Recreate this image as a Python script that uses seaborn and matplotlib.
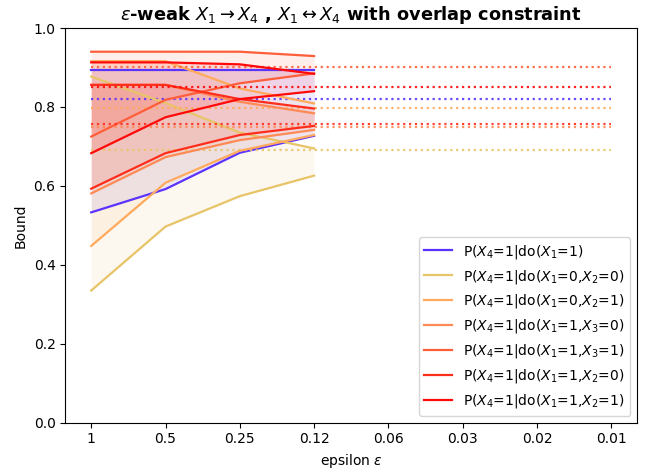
import numpy as np
import pandas as pd
import seaborn as sns
import matplotlib
matplotlib.use("Agg")
import matplotlib.pyplot as plt

eps_labels = ["1", "0.5", "0.25", "0.12", "0.06", "0.03", "0.02", "0.01"]
n_solid = 4

labels = [
    "P($X_4$=1|do($X_1$=1)",
    "P($X_4$=1|do($X_1$=0,$X_2$=0)",
    "P($X_4$=1|do($X_1$=0,$X_2$=1)",
    "P($X_4$=1|do($X_1$=1,$X_3$=0)",
    "P($X_4$=1|do($X_1$=1,$X_3$=1)",
    "P($X_4$=1|do($X_1$=1,$X_2$=0)",
    "P($X_4$=1|do($X_1$=1,$X_2$=1)",
]
colors = ["#5b33ff", "#e8c468", "#ffaa5c", "#ff8a55", "#ff5e3a", "#ff2d1c", "#ff0a0a"]

upper_blue = [0.894, 0.894, 0.894, 0.894]
lower_blue = [0.533, 0.592, 0.684, 0.727]
upper_y00 = [0.877, 0.810, 0.735, 0.695]
lower_y00 = [0.335, 0.497, 0.574, 0.626]
upper_o01 = [0.916, 0.916, 0.847, 0.809]
lower_o01 = [0.448, 0.608, 0.689, 0.729]
upper_o30 = [0.856, 0.856, 0.813, 0.784]
lower_o30 = [0.581, 0.673, 0.716, 0.742]
upper_o31 = [0.940, 0.940, 0.940, 0.929]
lower_o31 = [0.725, 0.818, 0.860, 0.885]
upper_r20 = [0.856, 0.856, 0.820, 0.796]
lower_r20 = [0.593, 0.683, 0.729, 0.752]
upper_r21 = [0.913, 0.913, 0.908, 0.884]
lower_r21 = [0.683, 0.774, 0.820, 0.840]

true_vals = [0.819, 0.690, 0.797, 0.750, 0.900, 0.757, 0.850]

uppers = [upper_blue, upper_y00, upper_o01, upper_o30, upper_o31, upper_r20, upper_r21]
lowers = [lower_blue, lower_y00, lower_o01, lower_o30, lower_o31, lower_r20, lower_r21]

fig, ax = plt.subplots(figsize=(6.59, 4.75), dpi=100)

x_solid = np.arange(n_solid)
x_all = np.arange(len(eps_labels))
for lab, c, up, lo, tv in zip(labels, colors, uppers, lowers, true_vals):
    df = pd.DataFrame({"x": x_solid, "up": up, "lo": lo})
    sns.lineplot(data=df, x="x", y="up", color=c, lw=1.6, ax=ax, label=lab)
    sns.lineplot(data=df, x="x", y="lo", color=c, lw=1.6, ax=ax)
    ax.fill_between(x_solid, lo, up, color=c, alpha=0.1, lw=0)
    dft = pd.DataFrame({"x": x_all, "v": [tv] * len(x_all)})
    sns.lineplot(data=dft, x="x", y="v", color=c, lw=1.6, ls=":", alpha=0.9, ax=ax)

ax.set_ylim(0, 1.0)
ax.set_xticks(x_all)
ax.set_xticklabels(eps_labels)
ax.set_xlabel(r"epsilon $\epsilon$")
ax.set_ylabel("Bound")
ax.set_title(r"$\epsilon$-weak $X_1 \rightarrow X_4$ , $X_1 \leftrightarrow X_4$ with overlap constraint",
             fontweight="bold", fontsize=12.8)
ax.legend(loc="lower right")
fig.subplots_adjust(left=0.099, right=0.967, top=0.941, bottom=0.11)
fig.savefig("out.png", dpi=100)
